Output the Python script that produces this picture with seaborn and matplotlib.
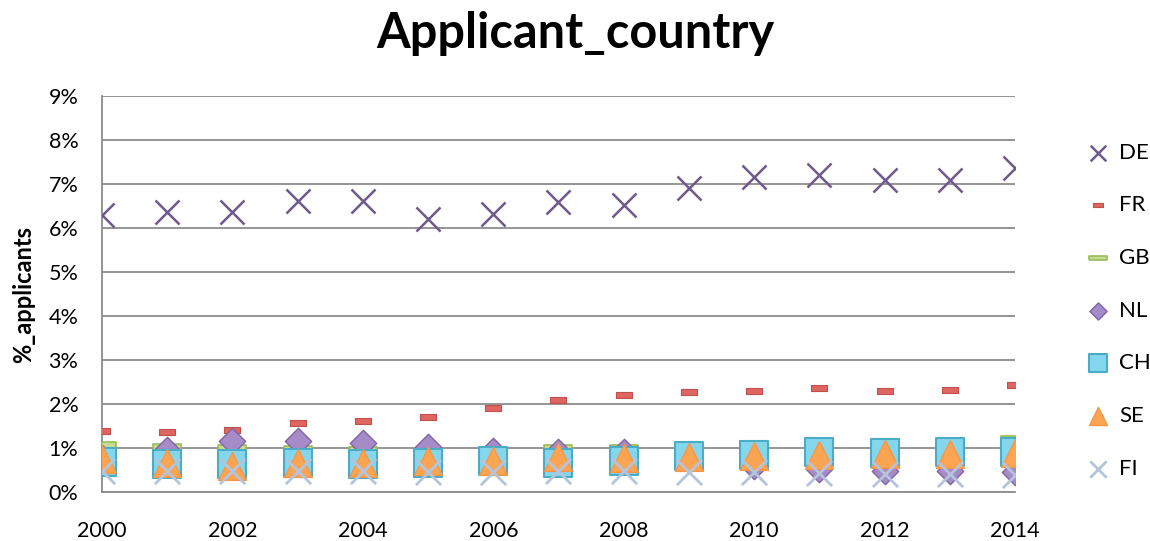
import matplotlib
matplotlib.use("Agg")
import matplotlib.pyplot as plt
import seaborn as sns
import numpy as np
import pandas as pd
from matplotlib.ticker import FuncFormatter, MultipleLocator

years = list(range(2000, 2015))
DE = [6.30, 6.37, 6.37, 6.61, 6.61, 6.20, 6.33, 6.60, 6.52, 6.91, 7.16, 7.20, 7.09, 7.09, 7.37]
FR = [1.39, 1.36, 1.42, 1.56, 1.62, 1.71, 1.90, 2.10, 2.20, 2.27, 2.29, 2.36, 2.29, 2.33, 2.43]
GB = [1.07, 1.03, 0.99, 0.97, 0.95, 0.93, 0.95, 1.00, 0.99, 1.00, 1.05, 1.08, 1.10, 1.12, 1.21]
NL = [0.78, 0.95, 1.17, 1.15, 1.12, 1.02, 0.93, 0.90, 0.90, 0.85, 0.60, 0.52, 0.48, 0.48, 0.45]
CH = [0.69, 0.64, 0.64, 0.65, 0.64, 0.66, 0.70, 0.67, 0.70, 0.83, 0.85, 0.90, 0.89, 0.90, 0.90]
SE = [0.76, 0.65, 0.60, 0.67, 0.65, 0.70, 0.70, 0.79, 0.77, 0.79, 0.83, 0.85, 0.87, 0.87, 0.88]
FI = [0.48, 0.48, 0.47, 0.47, 0.47, 0.46, 0.45, 0.47, 0.47, 0.45, 0.45, 0.43, 0.42, 0.42, 0.38]

series_names = ["DE", "FR", "GB", "NL", "CH", "SE", "FI"]
series_vals = [DE, FR, GB, NL, CH, SE, FI]

df = pd.DataFrame({"year": years, **dict(zip(series_names, series_vals))})
long = df.melt(id_vars="year", var_name="country", value_name="pct")

sns.set_style("white")
plt.rcParams["font.family"] = ["Lato", "DejaVu Sans"]
for key in ["text.color", "axes.labelcolor", "xtick.color", "ytick.color"]:
    plt.rcParams[key] = "black"

fig = plt.figure(figsize=(11.5, 5.41), dpi=100)
ax = fig.add_axes([0.0887, 0.0905, 0.7939, 0.7320])

dash_fr = [(-1, -0.42), (1, -0.42), (1, 0.42), (-1, 0.42), (-1, -0.42)]
dash_gb = [(-1, -0.2), (1, -0.2), (1, 0.2), (-1, 0.2), (-1, -0.2)]

styles = {
    "DE": dict(marker="x", s=300, color="#6e5a8c", linewidths=1.8),
    "FR": dict(marker=dash_fr, s=120, color="#e06661", edgecolor="#c0504d", linewidth=0.8),
    "GB": dict(marker=dash_gb, s=380, color="#c6dd8e", edgecolor="#9bbb59", linewidth=1.2),
    "NL": dict(marker="D", s=180, color="#a68bc9", edgecolor="#8064a2", linewidth=1.0),
    "CH": dict(marker="s", s=380, color="#84d6ec", edgecolor="#4bacc6", linewidth=1.5),
    "SE": dict(marker="^", s=400, color="#fba553", edgecolor="#f79646", linewidth=1.0),
    "FI": dict(marker="x", s=330, color="#b4c4dd", linewidths=2.0),
}

for name in series_names:
    sub = long[long["country"] == name]
    st = dict(styles[name])
    sns.scatterplot(data=sub, x="year", y="pct", ax=ax, label=name, zorder=3, **st)

ax.set_xlim(2000, 2014)
ax.set_ylim(0, 9)
ax.yaxis.set_major_locator(MultipleLocator(1))
ax.xaxis.set_major_locator(MultipleLocator(2))
ax.yaxis.set_major_formatter(FuncFormatter(lambda v, p: f"{v:.0f}%"))
ax.grid(axis="y", color="#8c8c8c", linewidth=1.3)
ax.grid(axis="x", visible=False)
for side in ["top", "right"]:
    ax.spines[side].set_visible(False)
for side in ["left", "bottom"]:
    ax.spines[side].set_color("#8c8c8c")
    ax.spines[side].set_linewidth(1.3)
ax.tick_params(axis="both", labelsize=15.5, length=0)
ax.tick_params(axis="y", pad=17)
ax.tick_params(axis="x", pad=21)
ax.set_xlabel("")
ax.set_ylabel("%_applicants", fontsize=17, fontweight="bold", labelpad=10)
ax.set_axisbelow(True)

fig.suptitle("Applicant_country", fontsize=35, fontweight="bold", y=0.98)

leg = ax.legend(loc="upper left", bbox_to_anchor=(1.067, 0.905), frameon=False,
                fontsize=16, labelspacing=1.47, handlelength=1.2, handletextpad=0.35,
                borderaxespad=0, scatterpoints=1, markerscale=0.65)

fig.savefig("out.png", dpi=100)
